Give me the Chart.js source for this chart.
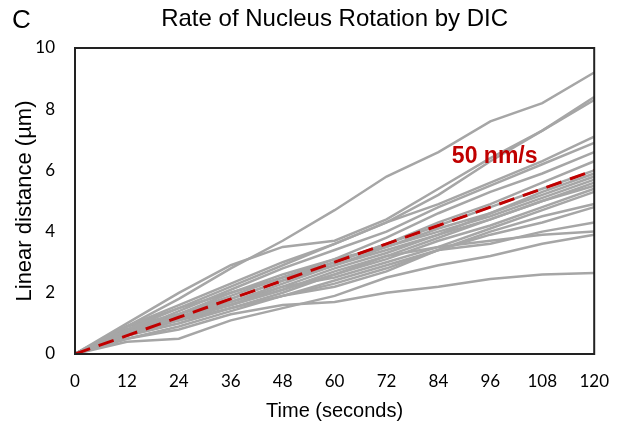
<!DOCTYPE html>
<html>
<head>
<meta charset="utf-8">
<script src="https://cdn.jsdelivr.net/npm/chart.js@4.4.0/dist/chart.umd.min.js"></script>
<style>
  html, body { margin: 0; padding: 0; background: #fff; }
  #wrap { width: 626px; height: 431px; position: relative; }
</style>
</head>
<body>
<div id="wrap"><canvas id="chart"></canvas></div>
<script>
// time axis (seconds)
const timePoints = [0, 12, 24, 36, 48, 60, 72, 84, 96, 108, 120];
const xTicks = [0, 12, 24, 36, 48, 60, 72, 84, 96, 108, 120];
const yTicks = [0, 2, 4, 6, 8, 10];

// individual nuclei, linear distance (µm) at each time point
const trace01 = [0, 0.9, 1.8, 2.8, 3.7, 4.7, 5.8, 6.6, 7.6, 8.2, 9.2];
const trace02 = [0, 1.0, 2.0, 2.9, 3.5, 3.7, 4.4, 5.4, 6.4, 7.3, 8.4];
const trace03 = [0, 0.8, 1.5, 2.2, 2.9, 3.6, 4.3, 5.2, 6.3, 7.3, 8.3];
const trace04 = [0, 0.9, 1.6, 2.3, 3.0, 3.6, 4.3, 4.9, 5.6, 6.3, 7.1];
const trace05 = [0, 0.7, 1.4, 2.1, 2.8, 3.4, 4.0, 4.8, 5.5, 6.2, 6.9];
const trace06 = [0, 0.8, 1.3, 2.0, 2.6, 3.1, 3.8, 4.6, 5.3, 5.9, 6.6];
const trace07 = [0, 0.6, 1.2, 1.8, 2.4, 3.0, 3.6, 4.3, 4.9, 5.6, 6.3];
const trace08 = [0, 0.7, 1.2, 1.7, 2.3, 2.9, 3.4, 3.9, 4.6, 5.2, 5.8];
const trace09 = [0, 0.9, 1.3, 1.8, 2.4, 2.9, 3.5, 4.0, 4.5, 5.1, 5.7];
const trace10 = [0, 0.8, 1.1, 1.6, 2.1, 2.6, 3.2, 3.8, 4.4, 5.0, 5.5];
const trace11 = [0, 0.6, 1.0, 1.5, 2.0, 2.6, 3.1, 3.7, 4.2, 4.8, 5.4];
const trace12 = [0, 0.7, 1.2, 1.6, 2.2, 2.5, 3.0, 3.5, 4.1, 4.7, 5.3];
const trace13 = [0, 0.8, 1.1, 1.5, 1.9, 2.4, 2.9, 3.4, 4.0, 4.5, 4.9];
const trace14 = [0, 0.5, 0.9, 1.4, 1.9, 2.3, 2.8, 3.4, 3.9, 4.3, 4.8];
const trace15 = [0, 0.6, 1.0, 1.5, 1.9, 2.2, 2.7, 3.4, 3.6, 4.0, 4.3];
const trace16 = [0, 0.4, 0.5, 1.1, 1.5, 1.9, 2.5, 2.9, 3.2, 3.6, 3.9];
const trace17 = [0, 0.5, 0.8, 1.3, 1.6, 1.7, 2.0, 2.2, 2.45, 2.6, 2.65];
const trace18 = [0, 0.7, 1.3, 1.9, 2.5, 3.0, 3.6, 4.2, 4.8, 5.4, 6.0];
const trace19 = [0, 0.9, 1.5, 2.0, 2.5, 3.1, 3.5, 4.1, 4.6, 5.3, 5.9];
const trace20 = [0, 0.6, 1.1, 1.7, 2.2, 2.8, 3.3, 3.9, 4.4, 5.0, 5.6];
const trace21 = [0, 0.7, 1.2, 1.6, 2.1, 2.7, 3.2, 3.5, 3.7, 3.9, 4.0];
const traces = [trace01, trace02, trace03, trace04, trace05, trace06, trace07,
  trace08, trace09, trace10, trace11, trace12, trace13, trace14, trace15,
  trace16, trace17, trace18, trace19, trace20, trace21];

// average rate line, 50 nm/s
const rateLine = [0, 0.6, 1.2, 1.8, 2.4, 3.0, 3.6, 4.2, 4.8, 5.4, 6.0];
const rateText = "50 nm/s";
const rateTextAt = { x: 97, y: 6.45 };

const chartTitle = "Rate of Nucleus Rotation by DIC";
const panelLetter = "C";
const xTitle = "Time (seconds)";
const yTitle = "Linear distance (µm)";

const toPoints = (vals) => vals.map((v, i) => ({ x: timePoints[i], y: v }));

const datasets = traces.map((t) => ({
  data: toPoints(t),
  borderColor: "#a6a6a6",
  borderWidth: 2.5,
  pointRadius: 0,
  tension: 0,
  order: 2,
}));
datasets.push({
  data: toPoints(rateLine),
  borderColor: "#c00000",
  borderWidth: 3,
  borderDash: [16, 9],
  pointRadius: 0,
  tension: 0,
  order: 1,
});

// frame, title and the rate label
const decorations = {
  id: "decorations",
  afterDatasetsDraw(chart) {
    const { ctx, chartArea: a, scales } = chart;
    ctx.save();
    ctx.strokeStyle = "#222";
    ctx.lineWidth = 2;
    ctx.strokeRect(a.left, a.top, a.right - a.left, a.bottom - a.top);

    ctx.fillStyle = "#c00000";
    ctx.font = "bold 23px 'Liberation Sans', Arial, sans-serif";
    ctx.textAlign = "center";
    ctx.textBaseline = "middle";
    ctx.fillText(rateText, scales.x.getPixelForValue(rateTextAt.x), scales.y.getPixelForValue(rateTextAt.y));

    ctx.fillStyle = "#000";
    ctx.font = "24px 'Liberation Sans', Arial, sans-serif";
    ctx.fillText(chartTitle, (a.left + a.right) / 2, 19);
    ctx.textAlign = "left";
    ctx.font = "26px 'Liberation Sans', Arial, sans-serif";
    ctx.fillText(panelLetter, 12, 21);
    ctx.restore();
  },
};

new Chart(document.getElementById("chart"), {
  type: "line",
  data: { datasets },
  plugins: [decorations],
  options: {
    responsive: true,
    maintainAspectRatio: false,
    animation: false,
    layout: { padding: { top: 48, right: 28, left: 0, bottom: 0 } },
    plugins: { legend: { display: false }, tooltip: { enabled: false }, title: { display: false } },
    scales: {
      x: {
        type: "linear",
        min: 0,
        max: 120,
        afterBuildTicks: (s) => { s.ticks = xTicks.map((v) => ({ value: v })); },
        afterFit: (s) => { s.height = 77; },
        grid: { display: false, drawTicks: false },
        border: { display: false },
        ticks: { padding: 17, color: "#000", font: { family: "Lato, 'Liberation Sans', sans-serif", size: 17 } },
        title: { display: true, text: xTitle, color: "#000", padding: { top: 0, bottom: 8 },
          font: { family: "'Liberation Sans', Arial, sans-serif", size: 20 } },
      },
      y: {
        type: "linear",
        min: 0,
        max: 10,
        afterBuildTicks: (s) => { s.ticks = yTicks.map((v) => ({ value: v })); },
        afterFit: (s) => { s.width = 75; },
        grid: { display: false, drawTicks: false },
        border: { display: false },
        ticks: { padding: 20, color: "#000", font: { family: "Lato, 'Liberation Sans', sans-serif", size: 17 } },
        title: { display: true, text: yTitle, color: "#000", padding: { top: 12, bottom: 0 },
          font: { family: "'Liberation Sans', Arial, sans-serif", size: 22 } },
      },
    },
  },
});
</script>
</body>
</html>
